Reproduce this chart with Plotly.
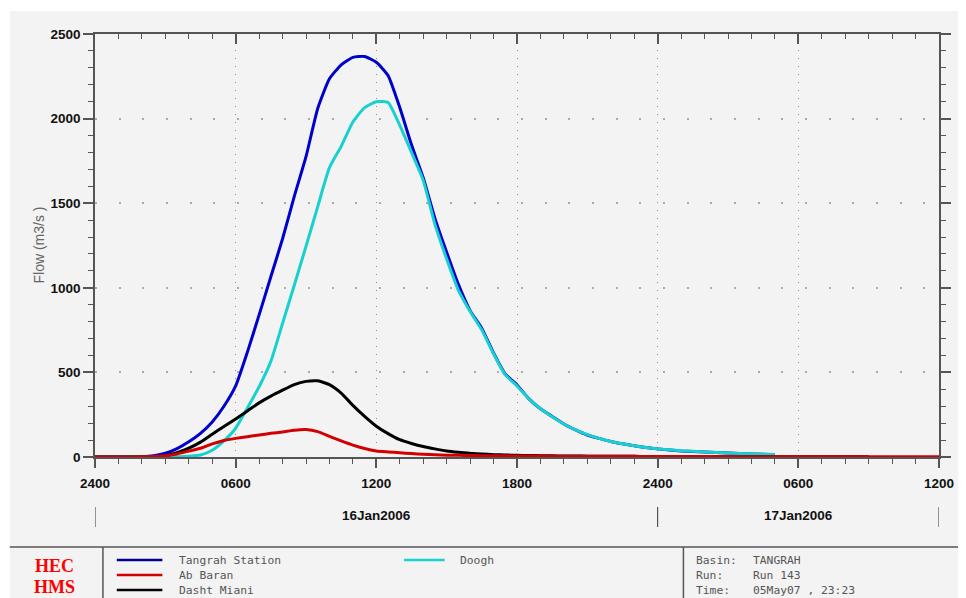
import plotly.graph_objects as go

# ---------------- data ----------------
# hours after 16Jan2006 00:00
TIME = [0, 0.5, 1, 1.5, 2, 2.5, 3, 3.5, 4, 4.5, 5, 5.5, 6, 6.5, 7, 7.5, 8, 8.5, 9, 9.5,
        10, 10.5, 11, 11.5, 12, 12.5, 13, 13.5, 14, 14.5, 15, 15.5, 16, 16.5, 17, 17.5,
        18, 18.5, 19, 19.5, 20, 20.5, 21, 21.5, 22, 22.5, 23, 23.5, 24,
        25, 26, 27, 28, 29, 30, 31, 32, 33, 34, 35, 36]

TANGRAH = [0, 0, 0, 0, 2, 8, 22, 50, 90, 140, 207, 300, 420, 620, 840, 1065, 1290, 1540, 1775, 2060,
           2235, 2318, 2362, 2367, 2333, 2255, 2065, 1845, 1650, 1410, 1210, 1020, 865, 760, 615, 490,
           426, 345, 285, 240, 195, 160, 130, 110, 92, 78, 66, 56, 48,
           36, 29, 23, 18, 14, None, None, None, None, None, None, None]

AB_BARAN = [0, 0, 0, 0, 1, 3, 8, 18, 35, 52, 78, 98, 110, 120, 130, 140, 148, 158, 162, 150,
            122, 95, 70, 50, 36, 30, 25, 20, 16, 13, 11, 10, 9, 8, 7, 7,
            6, 6, 6, 5, 5, 5, 5, 4, 4, 4, 4, 3, 3,
            3, 3, 2, 2, 2, 2, 2, 1, 1, 1, 1, 1]

DASHT_MIANI = [0, 0, 0, 0, 0, 2, 8, 25, 52, 88, 135, 180, 225, 272, 320, 360, 395, 428, 447, 450,
               428, 378, 305, 240, 182, 138, 102, 80, 62, 48, 36, 28, 22, 18, 14, 12,
               10, 9, 8, 7, 6, 6, 5, 5, 4, 4, 4, 3, 3,
               3, 2, 2, 2, 2, 1, 1, 1, 1, None, None, None]

DOOGH = [0, 0, 0, 0, 0, 0, 0, 2, 5, 12, 40, 95, 170, 290, 415, 565, 790, 1015, 1245, 1480,
         1710, 1836, 1980, 2065, 2100, 2095, 1960, 1800, 1635, 1375, 1170, 985, 860, 750, 610, 485,
         420, 345, 285, 238, 195, 160, 132, 110, 92, 78, 66, 56, 48,
         37, 30, 24, 19, 15, None, None, None, None, None, None, None]

SERIES = ["Tangrah Station", "Ab Baran", "Dasht Miani", "Doogh"]
COLORS = {"Tangrah Station": "#0000cc", "Ab Baran": "#d20000",
          "Dasht Miani": "#000000", "Doogh": "#18d0d0"}
VALUES = {"Tangrah Station": TANGRAH, "Ab Baran": AB_BARAN,
          "Dasht Miani": DASHT_MIANI, "Doogh": DOOGH}

X_TICKS = [0, 6, 12, 18, 24, 30, 36]
X_TICK_LABELS = ["2400", "0600", "1200", "1800", "2400", "0600", "1200"]
DAY_BOUNDS = [0, 24, 36]
DAY_LABELS = ["16Jan2006", "17Jan2006"]

Y_TITLE = "Flow (m3/s )"
INFO_LABELS = ["Basin:", "Run:", "Time:"]
INFO_VALUES = ["TANGRAH", "Run 143", "05May07 , 23:23"]

# ---------------- layout helpers (screen pixel coords) ----------------
OFF = 8                      # page body margin
SCR_W, SCR_H = 966, 598
L, R, T, B = 95, 947, 34, 457
PW, PH = R - L, B - T


def px_x(p):
    return (p - L) / PW


def px_y(p):
    return (B - p) / PH


fig = go.Figure()

draw_order = ["Tangrah Station", "Doogh", "Dasht Miani", "Ab Baran"]
for name in draw_order:
    fig.add_trace(go.Scatter(x=TIME, y=VALUES[name], mode="lines", name=name,
                             line=dict(color=COLORS[name], width=3, shape="spline", smoothing=0.5),
                             showlegend=False))

# invisible trace to carry the top axis
fig.add_trace(go.Scatter(x=TIME, y=DOOGH, xaxis="x2", mode="lines",
                         line=dict(width=0), opacity=0, hoverinfo="skip", showlegend=False))

AX = "#555555"
tick_font = dict(family="Liberation Sans, Arial", size=13.5, color="#111111", weight="bold")

fig.update_layout(
    width=SCR_W - OFF, height=SCR_H - OFF,
    margin=dict(l=L - OFF, r=SCR_W - R, t=T - OFF, b=SCR_H - B, pad=0),
    paper_bgcolor="white",
    plot_bgcolor="#f3f3f3",
    xaxis=dict(range=[0, 36], tickvals=X_TICKS, ticktext=X_TICK_LABELS,
               ticks="outside", ticklen=9, tickwidth=1.5, tickcolor=AX,
               minor=dict(dtick=1, ticks="outside", ticklen=5, tickwidth=1.2, tickcolor=AX,
                          showgrid=False),
               showline=True, linecolor=AX, linewidth=1.5, mirror=False,
               showgrid=True, gridcolor="#8a8a8a", gridwidth=1, griddash="1px,7px",
               zeroline=False, tickfont=tick_font, ticklabelstandoff=4),
    xaxis2=dict(range=[0, 36], overlaying="x", side="top", anchor="y",
                tickvals=X_TICKS, showticklabels=False,
                ticks="inside", ticklen=10, tickwidth=1.5, tickcolor=AX,
                minor=dict(dtick=1, ticks="inside", ticklen=5, tickwidth=1.2, tickcolor=AX),
                showline=True, linecolor=AX, linewidth=1.5, showgrid=False, zeroline=False),
    yaxis=dict(range=[0, 2500], dtick=500, ticks="outside", ticklen=10, tickwidth=1.5,
               tickcolor=AX,
               minor=dict(dtick=100, ticks="outside", ticklen=5, tickwidth=1.2, tickcolor=AX,
                          showgrid=False),
               showline=True, linecolor=AX, linewidth=1.5, mirror="ticks",
               showgrid=True, gridcolor="#aaaaaa", gridwidth=1.5,
               griddash="2px,21.67px",
               zeroline=False, tickfont=tick_font),
)

shapes = []
# gray panel background
shapes.append(dict(type="rect", xref="paper", yref="paper", layer="below",
                   x0=px_x(9), x1=px_x(SCR_W + 2), y0=px_y(SCR_H + 2), y1=px_y(11),
                   fillcolor="#f3f3f3", line=dict(width=0)))
# day boundary marks
for d in DAY_BOUNDS:
    shapes.append(dict(type="line", xref="x", yref="paper", x0=d, x1=d,
                       y0=px_y(507), y1=px_y(527), line=dict(color="#333333", width=1)))
# separators of the footer
shapes.append(dict(type="line", xref="paper", yref="paper", x0=px_x(9), x1=px_x(SCR_W + 2),
                   y0=px_y(547), y1=px_y(547), line=dict(color="#555555", width=1.5)))
for sx in (103, 689):
    shapes.append(dict(type="line", xref="paper", yref="paper", x0=px_x(sx), x1=px_x(sx),
                       y0=px_y(547), y1=px_y(SCR_H + 2), line=dict(color="#555555", width=1.5)))

annotations = []
# day labels centred on their spans
for i, lab in enumerate(DAY_LABELS):
    annotations.append(dict(text=lab, xref="x", yref="paper",
                            x=(DAY_BOUNDS[i] + DAY_BOUNDS[i + 1]) / 2, y=px_y(515),
                            showarrow=False, xanchor="center", yanchor="middle",
                            font=tick_font))
# y title
annotations.append(dict(text=Y_TITLE, xref="paper", yref="paper", x=px_x(38), y=px_y(245),
                        textangle=-90, showarrow=False, xanchor="center", yanchor="middle",
                        font=dict(family="Liberation Sans, Arial", size=14, color="#666666")))

# legend (drawn in footer)
ROWS = [560, 575, 590]
legend_pos = {"Tangrah Station": (117, 163, 178, ROWS[0]),
              "Ab Baran": (117, 163, 178, ROWS[1]),
              "Dasht Miani": (117, 163, 178, ROWS[2]),
              "Doogh": (407, 448, 461, ROWS[0])}
leg_font = dict(family="DejaVu Sans Mono", size=11.3, color="#555555")
for name in SERIES:
    lx0, lx1, tx, ly = legend_pos[name]
    col = "#000099" if name == "Tangrah Station" else COLORS[name]
    shapes.append(dict(type="line", xref="paper", yref="paper", x0=px_x(lx0), x1=px_x(lx1),
                       y0=px_y(ly), y1=px_y(ly), line=dict(color=col, width=2.5)))
    annotations.append(dict(text=name, xref="paper", yref="paper", x=px_x(tx), y=px_y(ly),
                            showarrow=False, xanchor="left", yanchor="middle", font=leg_font))

for i, (lab, val) in enumerate(zip(INFO_LABELS, INFO_VALUES)):
    yy = ROWS[i]
    annotations.append(dict(text=lab, xref="paper", yref="paper", x=px_x(700), y=px_y(yy),
                            showarrow=False, xanchor="left", yanchor="middle", font=leg_font))
    annotations.append(dict(text=val, xref="paper", yref="paper", x=px_x(757), y=px_y(yy),
                            showarrow=False, xanchor="left", yanchor="middle", font=leg_font))

# HEC HMS logo
logo_font = dict(family="Liberation Serif, Times New Roman", size=18, color="#ff0000")
for txt, yy in (("<b>HEC</b>", 566), ("<b>HMS</b>", 587)):
    annotations.append(dict(text=txt, xref="paper", yref="paper", x=px_x(54), y=px_y(yy),
                            showarrow=False, xanchor="center", yanchor="middle", font=logo_font))

fig.update_layout(shapes=shapes, annotations=annotations)
fig.write_html("out.html")
